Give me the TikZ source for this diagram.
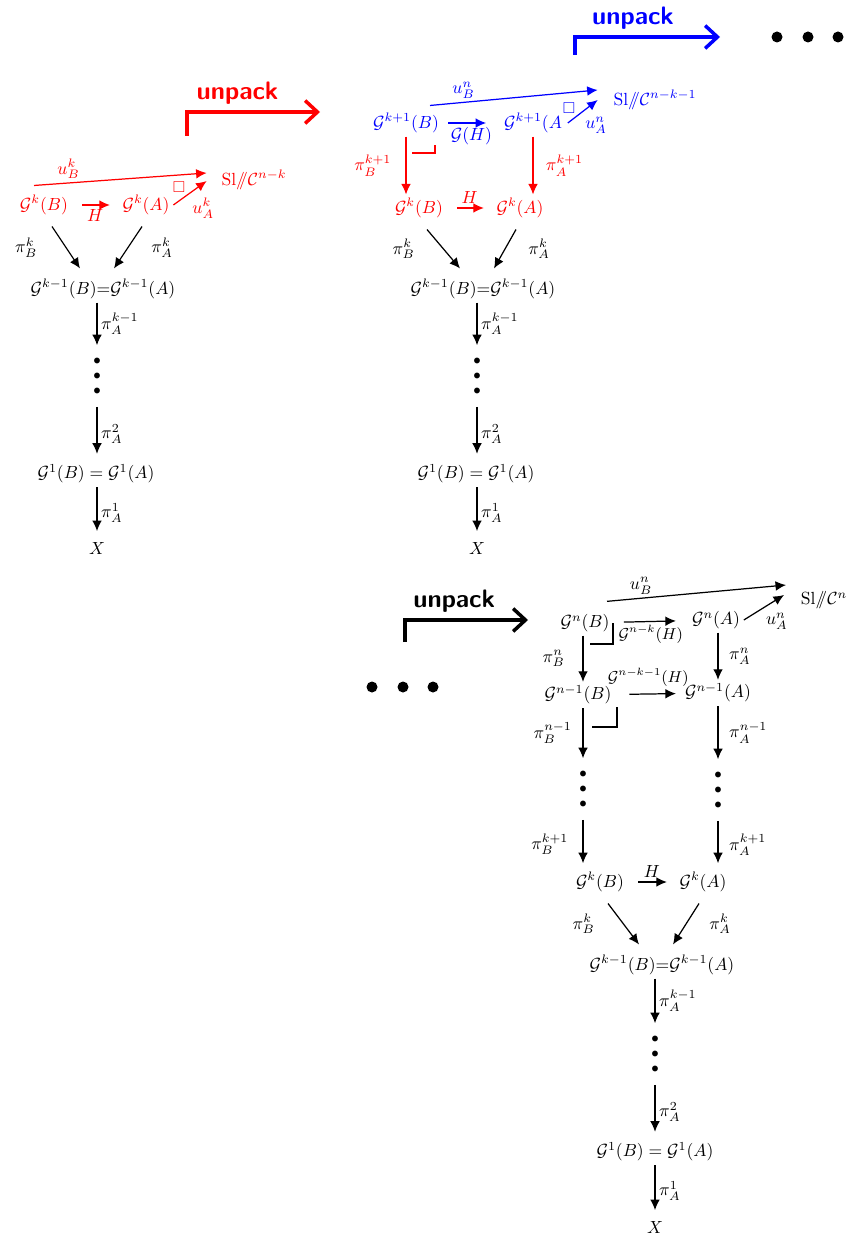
\documentclass[tikz,border=0pt]{standalone}
\usepackage{amsmath,amssymb}
\usetikzlibrary{arrows.meta, positioning, calc}

\begin{document}
\begin{tikzpicture}[x=0.02cm, y=-0.02cm,
  obj/.style={inner sep=2pt, font=\normalsize},
  map/.style={draw, line width=0.7pt, -{Latex[length=6pt,width=5.5pt]}},
  hmap/.style={map, shorten <=6pt, shorten >=5pt},
  lbl/.style={font=\normalsize, inner sep=2pt},
  unpack/.style={draw, line width=2pt, -{Straight Barb[length=7pt,width=13pt]}},
  unpacklbl/.style={font=\Large\sffamily\bfseries, above},
  corner/.style={draw, line width=0.8pt},
  vdotsnode/.style={font=\fontsize{8}{8.5}\selectfont, align=center, inner xsep=0pt, inner ysep=7pt},
  sq/.style={font=\small, inner sep=0pt}
]
\useasboundingbox (0,0) rectangle (855,1236);

% Unpack arrows
\coordinate (upR0) at (187,136);
\coordinate (upR1) at (320,112);
\coordinate (upB0) at (575,55);
\coordinate (upB1) at (720,37);
\coordinate (upK0) at (405,642);
\coordinate (upK1) at (528,620);
\draw[unpack, red] (upR0) |- node[unpacklbl, pos=0.69] {unpack} (upR1);
\draw[unpack, blue] (upB0) |- node[unpacklbl, pos=0.70] {unpack} (upB1);
\draw[unpack] (upK0) |- node[unpacklbl, pos=0.70] {unpack} (upK1);

% Horizontal dots
\fill (777,37) circle[radius=5.5];
\fill (808,37) circle[radius=5.5];
\fill (838,37) circle[radius=5.5];
\fill (372,687) circle[radius=5.5];
\fill (403,687) circle[radius=5.5];
\fill (433,687) circle[radius=5.5];

% Left diagram
\node[obj, red] (gkBL) at (44,205) {$\mathcal{G}^k(B)$};
\node[obj, red] (gkAL) at (146,205) {$\mathcal{G}^k(A)$};
\node[obj, red] (slL) at (254,180) {$\mathrm{Sl}/\!\!/\mathcal{C}^{n-k}$};
\node[sq, red] (sqL) at (179,187) {$\square$};
\node[obj] (eqL) at (103,289) {$\mathcal{G}^{k-1}(B){=}\mathcal{G}^{k-1}(A)$};
\node[vdotsnode] (dotsL) at (97,376) {$\bullet$\\$\bullet$\\$\bullet$};
\node[obj] (g1L) at (96,474) {$\mathcal{G}^1(B) = \mathcal{G}^1(A)$};
\node[obj] (xL) at (97,548) {$X$};

\draw[hmap, red] (gkBL) -- node[below, lbl] {$H$} (gkAL);
\draw[map, red] ($(gkBL.north)+(-10,-6)$) -- node[above, lbl, pos=0.2] {$u^k_B$} ($(slL.west)+(-11,-7)$);
\draw[map, red] (gkAL.east) -- node[below right, lbl, pos=0.45] {$u^k_A$} ($(slL.west)+(-11,1)$);
\draw[map] ($(gkBL.south)+(8,8)$) -- node[left=14pt, lbl] {$\pi^k_B$} ($(eqL.north)+(-23,-7)$);
\draw[map] ($(gkAL.south)+(-4,8)$) -- node[right=11pt, lbl] {$\pi^k_A$} ($(eqL.north)+(11,-7)$);
\draw[map] (eqL.south -| dotsL.north) -- node[right, lbl] {$\pi^{k-1}_A$} (dotsL.north);
\draw[map, shorten >=4pt] (dotsL.south) -- node[right, lbl] {$\pi^2_A$} (g1L.north -| dotsL.south);
\draw[map, shorten >=4pt] (g1L.south -| xL.north) -- node[right, lbl] {$\pi^1_A$} (xL.north);

% Middle diagram
\node[obj, blue] (gk1BM) at (406,123) {$\mathcal{G}^{k+1}(B)$};
\node[obj, blue] (gk1AM) at (533,123) {$\mathcal{G}^{k+1}(A$};
\node[obj, blue] (slM) at (655,100) {$\mathrm{Sl}/\!\!/\mathcal{C}^{n-k-1}$};
\node[sq, blue] (sqM) at (569,108) {$\square$};
\node[obj, red] (gkBM) at (419,208) {$\mathcal{G}^k(B)$};
\node[obj, red] (gkAM) at (520,208) {$\mathcal{G}^k(A)$};
\node[obj] (eqM) at (483,289) {$\mathcal{G}^{k-1}(B){=}\mathcal{G}^{k-1}(A)$};
\node[vdotsnode] (dotsM) at (477,376) {$\bullet$\\$\bullet$\\$\bullet$};
\node[obj] (g1M) at (476,474) {$\mathcal{G}^1(B) = \mathcal{G}^1(A)$};
\node[obj] (xM) at (477,548) {$X$};

\draw[map, blue, shorten <=3pt, shorten >=8pt] (gk1BM) -- node[below, lbl] {$\mathcal{G}(H)$} (gk1AM);
\draw[map, blue] ($(gk1BM.north)+(24,-4)$) -- node[above, lbl, pos=0.2] {$u^n_B$} ($(slM.west)+(-12,-10)$);
\draw[map, blue] ($(gk1AM.east)+(2,0)$) -- node[below right, lbl, pos=0.45] {$u^n_A$} ($(slM.west)+(-12,0)$);
\draw[map, red] (gk1BM.south) -- node[left=6pt, lbl] {$\pi^{k+1}_B$} (gk1BM.south |- gkBM.north);
\draw[map, red] (gk1AM.south) -- node[right=5pt, lbl] {$\pi^{k+1}_A$} (gk1AM.south |- gkAM.north);
\draw[corner, red] (412,153) -- (435,153) -- (435,145);
\draw[hmap, red] (gkBM) -- node[above, lbl] {$H$} (gkAM);
\draw[map] ($(gkBM.south)+(8,8)$) -- node[left=14pt, lbl] {$\pi^k_B$} ($(eqM.north)+(-23,-7)$);
\draw[map] ($(gkAM.south)+(-4,8)$) -- node[right=11pt, lbl] {$\pi^k_A$} ($(eqM.north)+(11,-7)$);
\draw[map] (eqM.south -| dotsM.north) -- node[right, lbl] {$\pi^{k-1}_A$} (dotsM.north);
\draw[map, shorten >=4pt] (dotsM.south) -- node[right, lbl] {$\pi^2_A$} (g1M.north -| dotsM.south);
\draw[map, shorten >=4pt] (g1M.south -| xM.north) -- node[right, lbl] {$\pi^1_A$} (xM.north);

% Bottom diagram
\node[obj] (gnB) at (585,623) {$\mathcal{G}^n(B)$};
\node[obj] (gnA) at (716,620) {$\mathcal{G}^n(A)$};
\node[obj] (slB) at (824,600) {$\mathrm{Sl}/\!\!/\mathcal{C}^n$};
\node[obj] (gn1B) at (578,695) {$\mathcal{G}^{n-1}(B)$};
\node[obj] (gn1A) at (718,693) {$\mathcal{G}^{n-1}(A)$};
\node[vdotsnode] (dotsBB) at (583,789) {$\bullet$\\$\bullet$\\$\bullet$};
\node[vdotsnode] (dotsBA) at (718,790) {$\bullet$\\$\bullet$\\$\bullet$};
\node[obj] (gkBB) at (600,882) {$\mathcal{G}^k(B)$};
\node[obj] (gkAB) at (703,882) {$\mathcal{G}^k(A)$};
\node[obj] (eqB) at (662,965) {$\mathcal{G}^{k-1}(B){=}\mathcal{G}^{k-1}(A)$};
\node[vdotsnode] (dotsB) at (655,1054) {$\bullet$\\$\bullet$\\$\bullet$};
\node[obj] (g1B) at (655,1152) {$\mathcal{G}^1(B) = \mathcal{G}^1(A)$};
\node[obj] (xB) at (655,1227) {$X$};

\draw[map, shorten <=6pt, shorten >=7pt] (gnB) -- node[below, lbl, font=\small] {$\mathcal{G}^{n-k}(H)$} (gnA);
\draw[map] ($(gnB.north)+(22,-9)$) -- node[above, lbl, pos=0.19] {$u^n_B$} ($(slB.west)+(-11,-15)$);
\draw[map] (gnA.east) -- node[below right, lbl, pos=0.45] {$u^n_A$} ($(slB.west)+(-13,-5)$);
\draw[corner] (590,644) -- (613,644) -- (613,623);
\draw[map] (gnB.south -| dotsBB.north) -- node[left=8pt, lbl] {$\pi^n_B$} (gn1B.north -| dotsBB.north);
\draw[map] (gnA.south -| dotsBA.north) -- node[right=4pt, lbl] {$\pi^n_A$} (gn1A.north -| dotsBA.north);
\draw[map, shorten <=8pt, shorten >=3pt] (gn1B) -- node[above=2pt, lbl, font=\small] {$\mathcal{G}^{n-k-1}(H)$} (gn1A);
\draw[corner] (592,727) -- (617,727) -- (617,707);
\draw[map] (gn1B.south -| dotsBB.north) -- node[left=4pt, lbl] {$\pi^{n-1}_B$} (dotsBB.north);
\draw[map] (gn1A.south -| dotsBA.north) -- node[right=4pt, lbl] {$\pi^{n-1}_A$} (dotsBA.north);
\draw[map, shorten >=3pt] (dotsBB.south) -- node[left=6pt, lbl] {$\pi^{k+1}_B$} (gkBB.north -| dotsBB.south);
\draw[map, shorten >=3pt] (dotsBA.south) -- node[right=4pt, lbl] {$\pi^{k+1}_A$} (gkAB.north -| dotsBA.south);
\draw[hmap] (gkBB) -- node[above, lbl] {$H$} (gkAB);
\draw[map] ($(gkBB.south)+(8,8)$) -- node[left=14pt, lbl] {$\pi^k_B$} ($(eqB.north)+(-23,-7)$);
\draw[map] ($(gkAB.south)+(-4,8)$) -- node[right=11pt, lbl] {$\pi^k_A$} ($(eqB.north)+(11,-7)$);
\draw[map] (eqB.south -| dotsB.north) -- node[right, lbl] {$\pi^{k-1}_A$} (dotsB.north);
\draw[map, shorten >=4pt] (dotsB.south) -- node[right, lbl] {$\pi^2_A$} (g1B.north -| dotsB.south);
\draw[map, shorten >=4pt] (g1B.south -| xB.north) -- node[right, lbl] {$\pi^1_A$} (xB.north);

\end{tikzpicture}
\end{document}
